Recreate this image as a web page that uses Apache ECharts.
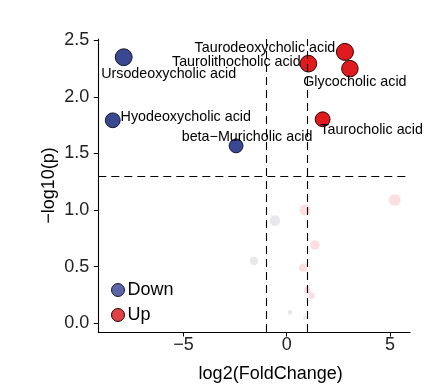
<!DOCTYPE html>
<html>
<head>
<meta charset="utf-8">
<script src="https://cdn.jsdelivr.net/npm/echarts@6/dist/echarts.min.js"></script>
<style>html,body{margin:0;padding:0;background:#fff}#c{width:441px;height:391px}</style>
</head>
<body>
<div id="c"></div>
<script>
// ---- data ----
const downNames = ["Ursodeoxycholic acid", "Hyodeoxycholic acid", "beta\u2212Muricholic acid"];
const downX = [-7.89, -8.42, -2.45];
const downY = [2.35, 1.793, 1.567];

const upNames = ["Taurolithocholic acid", "Taurodeoxycholic acid", "Glycocholic acid", "Taurocholic acid"];
const upX = [1.05, 2.82, 3.06, 1.74];
const upY = [2.293, 2.397, 2.249, 1.802];

const nsX = [5.24, 0.89, -0.57, 1.37, -1.58, 0.80, 1.00, 1.21, 0.16, 0.89];
const nsY = [1.089, 1.001, 0.906, 0.692, 0.55, 0.491, 0.294, 0.244, 0.097, 0.049];
const nsGroup = ["up", "up", "down", "up", "down", "up", "up", "up", "down", "down"];

const xTicks = [-5, 0, 5];
const yTicks = [0, 0.5, 1.0, 1.5, 2.0, 2.5];
const fcThreshold = [-1, 1];
const pThreshold = [1.301];

// ---- label layout (pixel offsets from point, ggrepel-like) ----
const downLabelOffsets = [[45, 17], [73, -3], [11, -9]];
const upLabelOffsets = [[-72, -2], [-80, -4], [5, 13], [49, 11]];

const allY = downY.concat(upY, nsY);
const yMin = Math.min(...allY), yMax = Math.max(...allY);
function sizeOf(y) {
  const aMin = 16, aMax = 17 * 17;
  return Math.sqrt(aMin + (y - yMin) / (yMax - yMin) * (aMax - aMin));
}

const font = "Liberation Sans, Arial, Helvetica, sans-serif";
const fmt = v => String(v).replace('-', '\u2212');

const chart = echarts.init(document.getElementById('c'), null, {renderer: 'canvas'});
const labelStyle = (off) => ({
  show: true, position: 'inside', offset: off,
  color: '#000', fontSize: 14.3, fontFamily: font,
  textBorderWidth: 0, textBorderColor: 'transparent'
});

chart.setOption({
  animation: false,
  backgroundColor: '#fff',
  grid: {left: 98.3, right: 31, top: 39, bottom: 59, containLabel: false},
  legend: {
    orient: 'vertical', left: 106, top: 276,
    icon: 'circle', itemWidth: 13, itemHeight: 13, itemGap: 7,
    textStyle: {fontSize: 18, fontFamily: font, color: '#000', padding: [0, 0, 0, -2]},
    data: [
      {name: 'Down', itemStyle: {color: '#5B66A9', borderColor: '#1a1a2e', borderWidth: 1}},
      {name: 'Up', itemStyle: {color: '#E04347', borderColor: '#2a0000', borderWidth: 1}}
    ]
  },
  xAxis: {
    type: 'value', min: -9.12, max: 5.97,
    splitLine: {show: false},
    axisLine: {onZero: false, lineStyle: {color: '#000', width: 1.1}},
    axisTick: {customValues: xTicks, length: 4.5, lineStyle: {color: '#000'}},
    axisLabel: {customValues: xTicks, formatter: fmt, fontSize: 18, fontFamily: font, color: '#222', margin: 4},
    name: 'log2(FoldChange)', nameLocation: 'middle', nameGap: 33,
    nameTextStyle: {fontSize: 18, fontFamily: font, color: '#000', padding: [0, 0, 0, 33]}
  },
  yAxis: {
    type: 'value', min: -0.077, max: 2.511,
    splitLine: {show: false},
    axisLine: {onZero: false, lineStyle: {color: '#000', width: 1.1}},
    axisTick: {customValues: yTicks, length: 4.5, lineStyle: {color: '#000'}},
    axisLabel: {customValues: yTicks, formatter: v => v.toFixed(1), fontSize: 18, fontFamily: font, color: '#222', margin: 9},
    name: '\u2212log10(p)', nameLocation: 'middle', nameGap: 40, nameRotate: 90,
    nameMoveOverlap: false,
    nameTextStyle: {fontSize: 18, fontFamily: font, color: '#000'}
  },
  series: [
    {
      name: 'NS', type: 'scatter', z: 1,
      data: nsX.map((x, i) => ({
        value: [x, nsY[i]],
        itemStyle: {opacity: 1, color: nsGroup[i] === 'up' ? 'rgba(227,26,60,0.15)' : 'rgba(150,150,165,0.22)'}
      })),
      symbolSize: v => sizeOf(v[1]),
      markLine: {
        silent: true, symbol: 'none', z: 10,
        label: {show: false},
        lineStyle: {color: '#000', type: [8, 5], width: 1.1},
        data: fcThreshold.map(v => ({xAxis: v})).concat(pThreshold.map(v => ({yAxis: v})))
      }
    },
    {
      name: 'Down', type: 'scatter', z: 3,
      itemStyle: {opacity: 1, color: '#3A4893', borderColor: '#15152a', borderWidth: 1},
      symbolSize: v => sizeOf(v[1]),
      data: downX.map((x, i) => ({value: [x, downY[i]], name: downNames[i], label: labelStyle(downLabelOffsets[i])})),
      label: {show: true, formatter: p => p.name}
    },
    {
      name: 'Up', type: 'scatter', z: 3,
      itemStyle: {opacity: 1, color: '#E01B1D', borderColor: '#300000', borderWidth: 1},
      symbolSize: v => sizeOf(v[1]),
      data: upX.map((x, i) => ({value: [x, upY[i]], name: upNames[i], label: labelStyle(upLabelOffsets[i])})),
      label: {show: true, formatter: p => p.name}
    }
  ]
});
</script>
</body>
</html>
